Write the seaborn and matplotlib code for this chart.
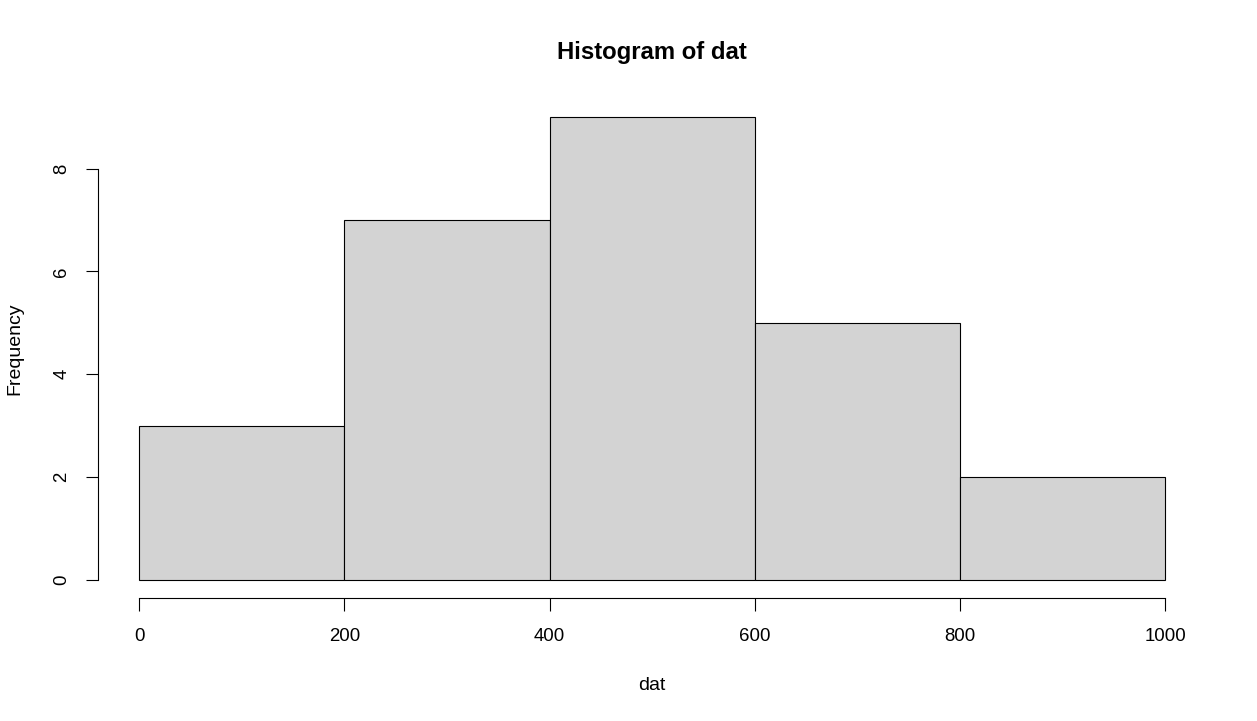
import seaborn as sns
import matplotlib.pyplot as plt

# histogram of dat: bin edges and counts
bin_edges = [0, 200, 400, 600, 800, 1000]
bin_mids = [100, 300, 500, 700, 900]
counts = [3, 7, 9, 5, 2]
x_ticks = [0, 200, 400, 600, 800, 1000]
y_ticks = [0, 2, 4, 6, 8]


def main():
    sns.set_style("white")
    plt.rcParams["font.family"] = ["Liberation Sans", "DejaVu Sans"]
    plt.rcParams["text.color"] = "black"
    plt.rcParams["axes.labelcolor"] = "black"
    plt.rcParams["xtick.color"] = "black"
    plt.rcParams["ytick.color"] = "black"

    fig = plt.figure(figsize=(12.57, 7.21), dpi=100)
    ax = fig.add_axes([0.078, 0.1706, 0.8816, 0.6921])

    sns.histplot(
        x=bin_mids,
        weights=counts,
        bins=bin_edges,
        color="#d3d3d3",
        edgecolor="black",
        linewidth=0.8,
        alpha=1,
        ax=ax,
    )

    # R-style axis extents (4% padding) with detached axis lines
    ax.set_xlim(-40, 1040)
    ax.set_ylim(-0.36, 9.36)
    for side in ("top", "right"):
        ax.spines[side].set_visible(False)
    ax.spines["left"].set_bounds(0, 8)
    ax.spines["bottom"].set_bounds(0, 1000)
    for side in ("left", "bottom"):
        ax.spines[side].set_linewidth(0.8)
        ax.spines[side].set_color("black")

    ax.set_xticks(x_ticks)
    ax.set_yticks(y_ticks)
    ax.tick_params(
        direction="out", length=9, width=0.8, color="black",
        labelsize=13.4, pad=11, left=True, bottom=True,
    )
    ax.tick_params(axis="x", pad=12.5)
    for lbl in ax.get_yticklabels():
        lbl.set_rotation(90)
        lbl.set_va("center")

    ax.set_title("Histogram of dat", fontsize=17.2, fontweight="bold", pad=29)
    ax.set_xlabel("dat", fontsize=14)
    ax.set_ylabel("Frequency", fontsize=14)
    ax.xaxis.set_label_coords(0.5, -0.176)
    ax.xaxis.label.set_va("center")
    ax.yaxis.set_label_coords(-0.0749, 0.5)
    ax.yaxis.label.set_va("center")

    fig.savefig("out.png", dpi=100)


if __name__ == "__main__":
    main()
